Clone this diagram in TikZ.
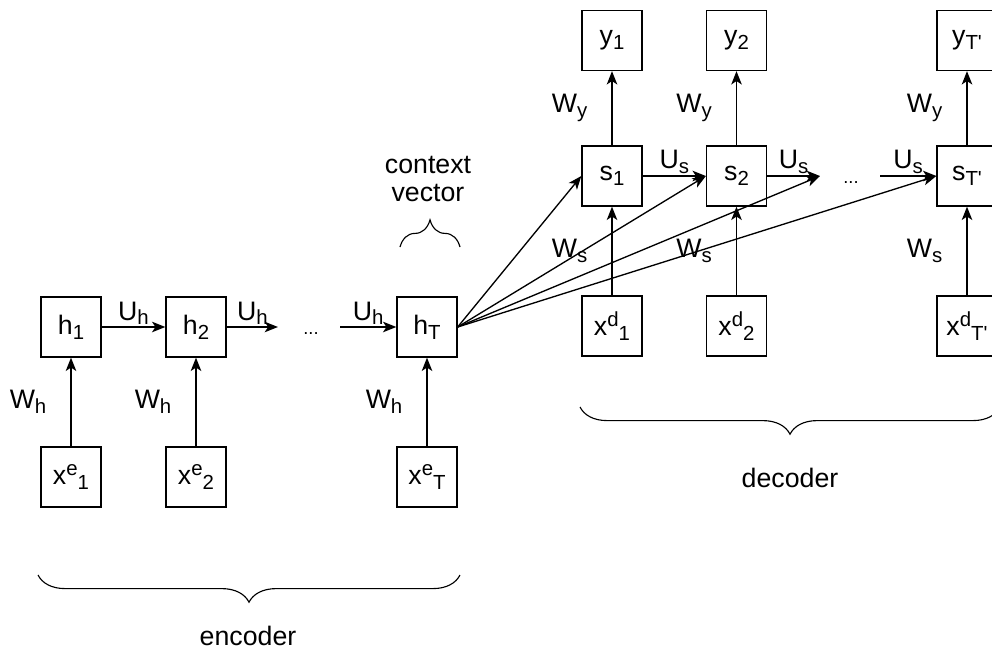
\documentclass[tikz,border=0pt]{standalone}
\usepackage{fontspec}
\setmainfont{Liberation Sans}
\usetikzlibrary{arrows.meta,positioning,decorations.pathreplacing}

\newcommand{\subx}[1]{\raisebox{-3.5pt}{\fontsize{14.5}{14.5}\selectfont #1}}
\newcommand{\supx}[1]{\raisebox{6pt}{\fontsize{14.5}{14.5}\selectfont #1}}
\newcommand{\tp}{T\textquotesingle}

\begin{document}
\begin{tikzpicture}[x=0.025cm, y=-0.025cm,
    font=\fontsize{19}{20}\selectfont,
    cell/.style={draw, line width=0.95pt, minimum size=1.5cm, inner sep=0pt},
    flow/.style={line width=0.95pt, -{Stealth[length=9.5pt, width=7.5pt, inset=2.5pt]}},
    ulbl/.style={above=1pt, inner sep=0pt},
    wlbl/.style={left=0.6cm, inner sep=0pt},
    grp/.style={decorate, decoration={brace, amplitude=0.68cm}, line width=0.8pt}]
            \useasboundingbox (0,0) rectangle (992,650);

            % encoder
            \node[cell] (h1) at (71,327) {h\subx{1}};
            \node[cell] (h2) at (196,327) {h\subx{2}};
            \node[cell] (hT) at (427,327) {h\subx{T}};
            \node[cell] (xe1) at (71,477) {x\supx{e}\subx{1}};
            \node[cell] (xe2) at (196,477) {x\supx{e}\subx{2}};
            \node[cell] (xeT) at (427,477) {x\supx{e}\subx{T}};

            \coordinate (h2out) at (278,327);
            \coordinate (hTin) at (340,327);
            \node[font=\fontsize{13}{13}\selectfont, anchor=base] (edots) at (311,334) {...};

            % decoder
            \node[cell] (y1) at (612,40.5) {y\subx{1}};
            \node[cell] (y2) at (736.5,40.5) {y\subx{2}};
            \node[cell] (yT) at (967,40.5) {y\subx{\tp}};
            \node[cell] (s1) at (612,176) {s\subx{1}};
            \node[cell] (s2) at (736.5,176) {s\subx{2}};
            \node[cell] (sT) at (967,176) {s\subx{\tp}};
            \node[cell] (xd1) at (612,326) {x\supx{d}\subx{1}};
            \node[cell] (xd2) at (736.5,326) {x\supx{d}\subx{2}};
            \node[cell] (xdT) at (967,326) {x\supx{d}\subx{\tp}};

            \coordinate (s2out) at (820,176);
            \coordinate (sTin) at (880,176);
            \node[font=\fontsize{13}{13}\selectfont, anchor=base] (ddots) at (851,183) {...};

            \node[align=center] (ctx) at (428,179) {context\\vector};

            % encoder arrows
            \draw[flow] (xe1) -- node[wlbl] (wh1) {W\subx{h}} (h1);
            \draw[flow] (xe2) -- node[wlbl] (wh2) {W\subx{h}} (h2);
            \draw[flow] (xeT) -- node[wlbl] (wh3) {W\subx{h}} (hT);
            \draw[flow] (h1) -- node[ulbl] (uh1) {U\subx{h}} (h2);
            \draw[flow] (h2) -- node[ulbl] (uh2) {U\subx{h}} (h2out);
            \draw[flow] (hTin) -- node[ulbl] (uh3) {U\subx{h}} (hT);

            % decoder arrows
            \draw[flow] (xd1) -- node[wlbl] (ws1) {W\subx{s}} (s1);
            \draw[flow] (xd2) -- node[wlbl] (ws2) {W\subx{s}} (s2);
            \draw[flow] (xdT) -- node[wlbl] (ws3) {W\subx{s}} (sT);
            \draw[flow] (s1) -- node[wlbl] (wy1) {W\subx{y}} (y1);
            \draw[flow] (s2) -- node[wlbl] (wy2) {W\subx{y}} (y2);
            \draw[flow] (sT) -- node[wlbl] (wy3) {W\subx{y}} (yT);
            \draw[flow] (s1) -- node[ulbl] (us1) {U\subx{s}} (s2);
            \draw[flow] (s2) -- node[ulbl] (us2) {U\subx{s}} (s2out);
            \draw[flow] (sTin) -- node[ulbl] (us3) {U\subx{s}} (sT);

            % context vector
            \draw[flow] (hT.east) -- (s1.west);
            \draw[flow] (hT.east) -- (s2.west);
            \draw[flow] (hT.east) -- (s2out);
            \draw[flow] (hT.east) -- (sT.west);

            % braces
            \draw[grp] (400,247) -- (460,247);
            \draw[grp] (460,575) -- (38,575);
            \draw[grp] (1000,407) -- (580,407);
            \node[anchor=base] (enc) at (248,645) {encoder};
            \node[anchor=base] (dec) at (790,487) {decoder};
        \end{tikzpicture}
\end{document}
